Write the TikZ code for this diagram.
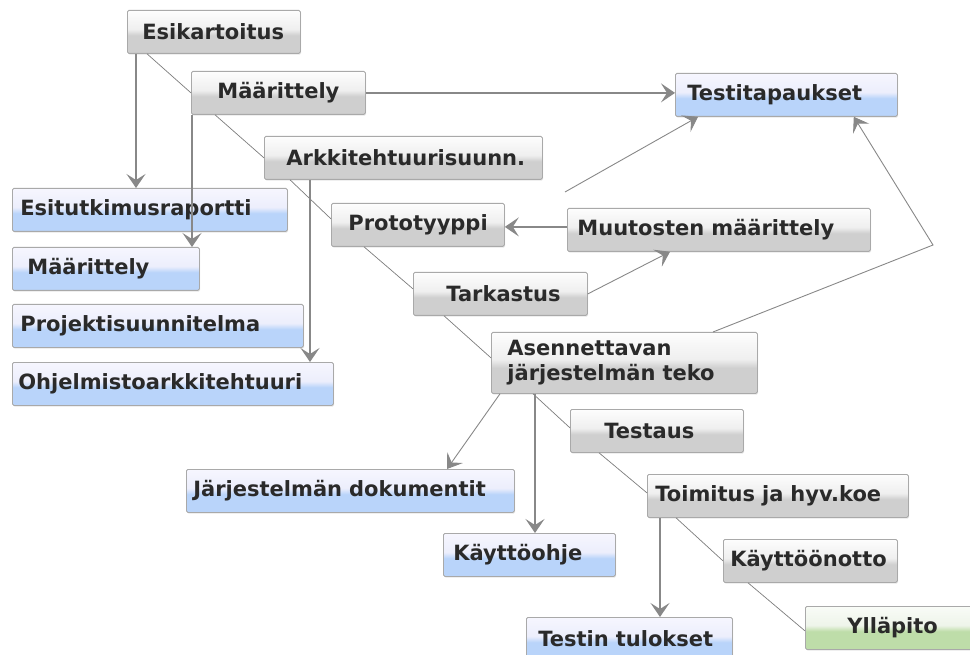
\documentclass[tikz,border=0pt]{standalone}
\usepackage{fontspec}
\setmainfont{DejaVu Sans}
\usetikzlibrary{arrows.meta,calc,shadows}
\definecolor{PlanInk}{HTML}{2A2A2A}
\definecolor{PlanEdge}{HTML}{A9A9A9}
\definecolor{PlanWire}{HTML}{7C7C7C}
\definecolor{PlanFlow}{HTML}{888888}
\definecolor{StageTop}{HTML}{FDFDFD}
\definecolor{StageMid}{HTML}{EFEFEF}
\definecolor{StageLow}{HTML}{CFCFCF}
\definecolor{DocTop}{HTML}{F6F6FE}
\definecolor{DocMid}{HTML}{ECEEFC}
\definecolor{DocLow}{HTML}{B9D4FA}
\definecolor{EndTop}{HTML}{F9FCF7}
\definecolor{EndMid}{HTML}{EEF4EA}
\definecolor{EndLow}{HTML}{BEDDA9}
\pgfdeclareverticalshading{stagefill}{100bp}{color(0bp)=(StageLow); color(25bp)=(StageLow);
  color(46bp)=(StageLow); color(53bp)=(StageMid); color(75bp)=(StageTop); color(100bp)=(StageTop)}
\pgfdeclareverticalshading{docfill}{100bp}{color(0bp)=(DocLow); color(25bp)=(DocLow);
  color(46bp)=(DocLow); color(53bp)=(DocMid); color(75bp)=(DocTop); color(100bp)=(DocTop)}
\pgfdeclareverticalshading{endfill}{100bp}{color(0bp)=(EndLow); color(25bp)=(EndLow);
  color(46bp)=(EndLow); color(53bp)=(EndMid); color(75bp)=(EndTop); color(100bp)=(EndTop)}

\begin{document}
\begin{tikzpicture}[x=1pt,y=-1pt,
    box/.style={anchor=north west,draw=PlanEdge,line width=0.8pt,rounded corners=1.5pt,
      minimum height=43pt,inner ysep=0pt,align=left,text=PlanInk,
      font=\bfseries\fontsize{21}{25}\selectfont,
      drop shadow={shadow xshift=0.8pt,shadow yshift=-1.2pt,opacity=0.2}},
    stage/.style={box,shade,shading=stagefill},
    doc/.style={box,shade,shading=docfill},
    finale/.style={box,shade,shading=endfill},
    seq/.style={draw=PlanWire,line width=0.7pt},
    flow/.style={draw=PlanFlow,line width=1.4pt,-{Stealth[length=14pt,width=19pt,inset=6pt]}},
    link/.style={flow,line width=0.9pt}]
  \useasboundingbox (0,0) rectangle (970,655);
  \clip (0,0) rectangle (970,655);

  % work phases
  \node[stage,text width=143pt,inner xsep=15pt] (esik) at (127,10) {Esikartoitus};
  \node[stage,text width=122pt,inner xsep=26pt] (maar) at (191,71) {Määrittely};
  \node[stage,text width=234pt,inner xsep=22pt] (arkk) at (264,136) {Arkkitehtuurisuunn.};
  \node[stage,text width=139pt,inner xsep=17pt] (proto) at (331,203) {Prototyyppi};
  \node[stage,text width=283pt,inner xsep=10pt] (muut) at (567,208) {Muutosten määrittely};
  \node[stage,text width=108pt,inner xsep=33pt] (tark) at (413,272) {Tarkastus};
  \node[stage,text width=234pt,inner xsep=16pt,minimum height=61pt] (asenn) at (491,332)
    {Asennettavan\\järjestelmän teko};
  \node[stage,text width=105pt,inner xsep=34pt] (testaus) at (570,409) {Testaus};
  \node[stage,text width=245pt,inner xsep=8pt] (toim) at (647,474) {Toimitus ja hyv.koe};
  \node[stage,text width=160pt,inner xsep=7pt] (kotto) at (723,539) {Käyttöönotto};
  \node[finale,text width=92pt,inner xsep=42pt] (yllap) at (805,606) {Ylläpito};

  % documents
  \node[doc,text width=259pt,inner xsep=8pt] (esitut) at (12,188) {Esitutkimusraportti};
  \node[doc,text width=157pt,inner xsep=15pt] (maardoc) at (12,247) {Määrittely};
  \node[doc,text width=275pt,inner xsep=8pt] (projs) at (12,304) {Projektisuunnitelma};
  \node[doc,text width=309pt,inner xsep=6pt] (ohjark) at (12,362) {Ohjelmistoarkkitehtuuri};
  \node[doc,text width=198pt,inner xsep=12pt] (testit) at (675,73) {Testitapaukset};
  \node[doc,text width=314pt,inner xsep=7pt] (jdok) at (186,469) {Järjestelmän dokumentit};
  \node[doc,text width=152pt,inner xsep=10pt] (kohje) at (443,533) {Käyttöohje};
  \node[doc,text width=182pt,inner xsep=12pt] (ttul) at (526,617) {Testin tulokset};

  % phase sequence
  \draw[seq] ([xshift=20pt]esik.south west) -- (maar.west);
  \draw[seq] ([xshift=24pt]maar.south west) -- (arkk.west);
  \draw[seq] ([xshift=26pt]arkk.south west) -- ([yshift=6pt]proto.west);
  \draw[seq] ([xshift=33pt]proto.south west) -- ([yshift=5pt]tark.west);
  \draw[seq] ([xshift=31pt]tark.south west) -- ([yshift=5pt]asenn.west);
  \draw[seq] ([xshift=42pt]asenn.south west) -- ([yshift=3pt]testaus.west);
  \draw[seq] ([xshift=29pt]testaus.south west) -- ([yshift=3pt]toim.west);
  \draw[seq] ([xshift=29pt]toim.south west) -- (kotto.west);
  \draw[seq] ([xshift=25pt]kotto.south west) -- ([yshift=-3pt]yllap.west);

  % outputs
  \draw[flow] ([xshift=9pt]esik.south west) -- ([xshift=9pt]esik.south west |- esitut.north);
  \draw[flow] ([xshift=1pt]maar.south west) -- ([xshift=1pt]maar.south west |- maardoc.north);
  \draw[flow] (maar.east) -- (maar.east -| testit.west);
  \draw[flow] ([xshift=46pt]arkk.south west) -- ([xshift=46pt]arkk.south west |- ohjark.north);
  \draw[flow] ([yshift=3pt]muut.west) -- ([yshift=3pt]muut.west -| proto.east);
  \draw[link] (tark.east) -- ([xshift=103pt]muut.south west);
  \coordinate (loose) at (565,192);
  \draw[link] (loose) -- ([xshift=23pt]testit.south west);
  \coordinate (bend) at (933,245);
  \draw[link] ([xshift=222pt]asenn.north west) -- (bend) -- ([xshift=-44pt]testit.south east);
  \draw[link] ([xshift=9pt]asenn.south west) -- ([xshift=261pt]jdok.north west);
  \draw[flow] ([xshift=44pt]asenn.south west) -- ([xshift=44pt]asenn.south west |- kohje.north);
  \draw[flow] ([xshift=13pt]toim.south west) -- ([xshift=13pt]toim.south west |- ttul.north);
\end{tikzpicture}
\end{document}
